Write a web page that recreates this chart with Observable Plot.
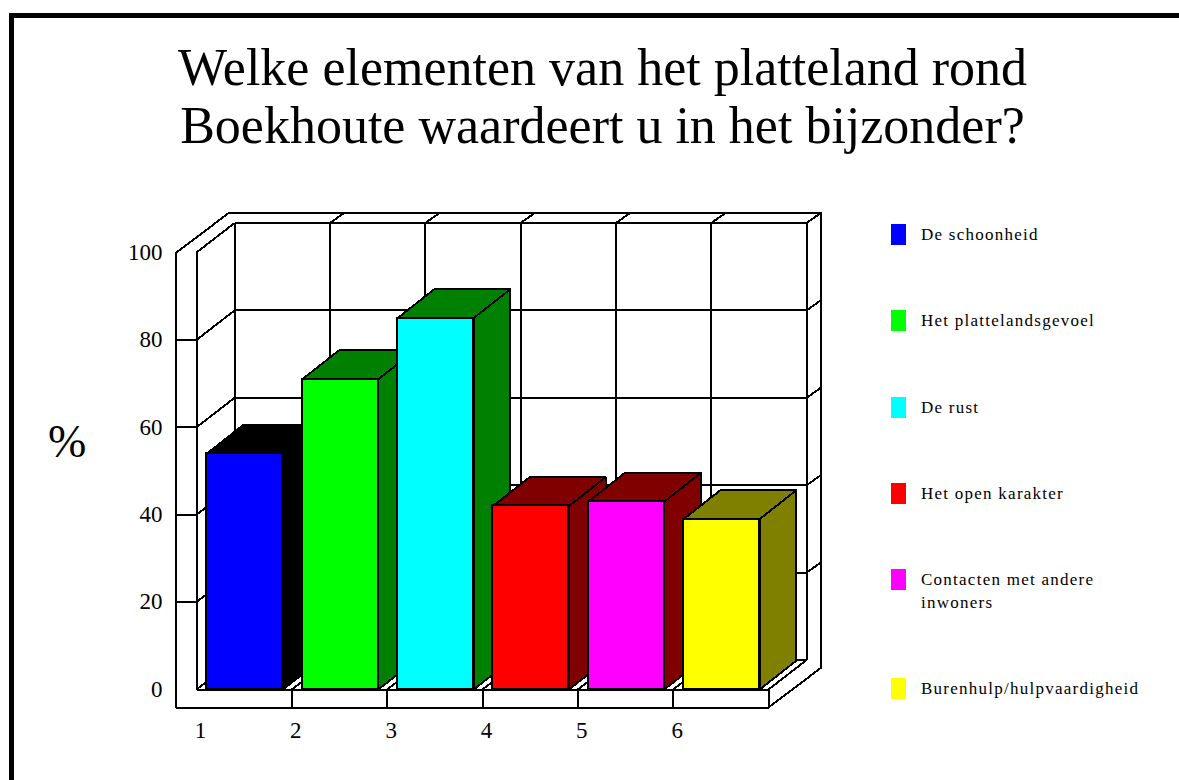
<!DOCTYPE html>
<html><head><meta charset="utf-8">
<script src="https://cdn.jsdelivr.net/npm/d3@7"></script>
<script src="https://cdn.jsdelivr.net/npm/@observablehq/plot@0.6"></script>
<style>
html,body{margin:0;padding:0;background:#fff;width:1179px;height:780px;overflow:hidden}
#frame{position:absolute;left:9px;top:13px;width:1170px;height:767px;border-top:5px solid #000;border-left:5px solid #000;box-sizing:border-box}
#title{position:absolute;left:0;top:39px;width:1205px;text-align:center;font:52px/58px "Liberation Serif",serif;color:#000}
#unit{position:absolute;left:48px;top:417px;font:46px/50px "Liberation Serif",serif}
#chart{position:absolute;left:0;top:195px}
#legend div.row{position:absolute;left:891px;display:flex;align-items:flex-start}
#legend i{display:block;width:15px;height:21px;flex:none}
#legend span{display:block;margin-left:15px;margin-top:-1px;width:228px;font:17px/23px "Liberation Serif",serif;letter-spacing:1.25px;color:#000}
</style></head><body>
<div id="frame"></div>
<div id="title">Welke elementen van het platteland rond<br>Boekhoute waardeert u in het bijzonder?</div>
<div id="unit">%</div>
<div id="chart"></div>
<div id="legend"></div>
<script>
const categories = ["De schoonheid","Het plattelandsgevoel","De rust","Het open karakter","Contacten met andere inwoners","Burenhulp/hulpvaardigheid"];
const values = [54, 71, 85, 42, 43, 39];
const frontColors = ["#0000ff","#00ff00","#00ffff","#ff0000","#ff00ff","#ffff00"];
const shadeColors = ["#000000","#008000","#008000","#800000","#800000","#808000"];
const yTicks = [0,20,40,60,80,100];
const xTickLabels = ["1","2","3","4","5","6"];
const legendTops = [224,310,397,483,569,678];

// oblique projection, in data units
const dX = 0.4, dY = 6.75;
const barDX = 0.385, barDY = 6.6;
const oX = 0.555, oY = 9.15;
const slabX = 0.21, slabY = 4.12;
const n = categories.length, yMax = 100;
const barL = 0.11, barW = 0.797;
const pts = a => a.map(([x,y]) => ({x,y}));
const ink = {stroke:"#000", strokeWidth:2, shapeRendering:"crispEdges"};
const seg = (x1,y1,x2,y2) => ({x1,y1,x2,y2});

const outline = [[-slabX,-slabY],[-slabX,yMax],[-slabX+oX,yMax+oY],[n+oX,yMax+oY],[n+oX,-slabY+oY],[n,-slabY]];
const inner = [];
inner.push(seg(0,0,0,yMax), seg(0,0,n,0), seg(n,0,n,-slabY));
inner.push(seg(0,yMax,dX,yMax+dY), seg(n,0,n+dX,dY));
inner.push(seg(dX,yMax+dY,n+dX,yMax+dY), seg(dX,dY,n+dX,dY));
for (let i=0;i<=n;i++) {
  inner.push(seg(i+dX,dY,i+dX,yMax+dY));
  inner.push(seg(i,0,i+dX,dY));
  if (i>0) inner.push(seg(i+dX,yMax+dY,i+oX,yMax+oY));
  if (i>0) inner.push(seg(i,0,i,-slabY));
}
for (const t of yTicks.slice(0,-1)) {
  if (t>0) {
    inner.push(seg(-slabX,t,0,t));
    inner.push(seg(n+dX,t+dY,n+oX,t+oY));
  }
  inner.push(seg(0,t,dX,t+dY));
  inner.push(seg(dX,t+dY,n+dX,t+dY));
}

const barMarks = values.flatMap((v,i) => {
  const l=i+barL, r=l+barW, shade=shadeColors[i];
  return [
    Plot.line(pts([[r,0],[r+barDX,barDY],[r+barDX,v+barDY],[r,v]]), {x:"x",y:"y",curve:"linear-closed",fill:shade,...ink}),
    Plot.line(pts([[l,v],[l+barDX,v+barDY],[r+barDX,v+barDY],[r,v]]), {x:"x",y:"y",curve:"linear-closed",fill:shade,...ink}),
    Plot.rect([v], {x1:l,x2:r,y1:0,y2:d=>d,fill:frontColors[i],...ink})
  ];
});

const plot = Plot.plot({
  width:860, height:570,
  marginLeft:196, marginRight:92, marginTop:57, marginBottom:76,
  style:{fontFamily:"'Liberation Serif',serif", background:"transparent", color:"#000", overflow:"visible"},
  x:{domain:[0,n]},
  y:{domain:[0,yMax]},
  marks:[
    Plot.line(pts(outline), {x:"x",y:"y",curve:"linear-closed",fill:"#fff",...ink}),
    Plot.link(inner, {x1:"x1",y1:"y1",x2:"x2",y2:"y2",...ink}),
    ...barMarks,
    Plot.axisY({ticks:yTicks, tickSize:0, tickPadding:34, label:null, anchor:"left", fontSize:23}),
    Plot.axisX({ticks:d3.range(n), tickFormat:d=>xTickLabels[d], tickSize:0, tickPadding:32, dx:4, label:null, anchor:"bottom", fontSize:23})
  ]
});
document.getElementById("chart").append(plot);

const legend = document.getElementById("legend");
categories.forEach((c,i) => {
  const row = document.createElement("div");
  row.className = "row";
  row.style.top = legendTops[i]+"px";
  const sw = document.createElement("i");
  sw.style.background = frontColors[i];
  const tx = document.createElement("span");
  tx.textContent = c;
  row.append(sw,tx);
  legend.append(row);
});
</script>
</body></html>
